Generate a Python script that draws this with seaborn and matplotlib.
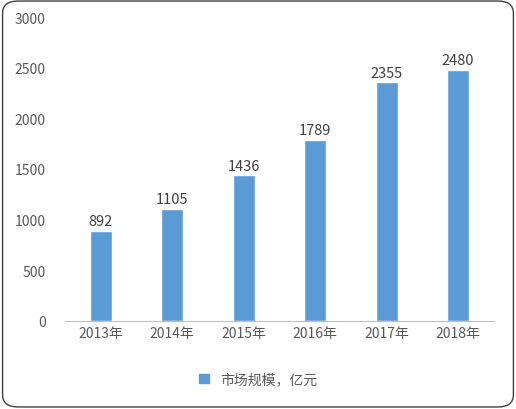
import matplotlib.pyplot as plt
import seaborn as sns
import pandas as pd
from matplotlib.patches import FancyBboxPatch, Patch

years = ['2013年', '2014年', '2015年', '2016年', '2017年', '2018年']
values = [892, 1105, 1436, 1789, 2355, 2480]
series_name = '市场规模，亿元'

sns.set_style("white")
plt.rcParams['font.family'] = ['Noto Sans CJK SC', 'DejaVu Sans']

df = pd.DataFrame({'year': years, 'value': values})

fig = plt.figure(figsize=(5.16, 4.10), dpi=100)
ax = fig.add_axes([0.126, 0.215, 0.831, 0.741])
sns.barplot(data=df, x='year', y='value', color='#5B9BD5', saturation=1, width=0.31, ax=ax)

for i, v in enumerate(values):
    ax.text(i, v + 25, str(v), ha='center', va='bottom', fontsize=10.5, color='#404040')

ax.set_ylim(0, 3000)
ax.set_yticks(range(0, 3001, 500))
ax.set_xlabel('')
ax.set_ylabel('')
ax.tick_params(axis='both', labelsize=10, colors='#595959', length=0)
ax.tick_params(axis='y', pad=14)
for s in ['top', 'right', 'left']:
    ax.spines[s].set_visible(False)
ax.spines['bottom'].set_color('#BFBFBF')

fig.legend(handles=[Patch(color='#5B9BD5', label=series_name)], loc='lower center',
           bbox_to_anchor=(0.5, 0.025), frameon=False, fontsize=10, handlelength=0.7,
           handleheight=0.7, labelcolor='#595959')

border = FancyBboxPatch((0.005, 0.005), 0.99, 0.99, boxstyle='round,pad=0,rounding_size=0.03',
                        transform=fig.transFigure, fill=False, edgecolor='#404040', linewidth=1)
fig.patches.append(border)

fig.savefig('out.png', dpi=100)
